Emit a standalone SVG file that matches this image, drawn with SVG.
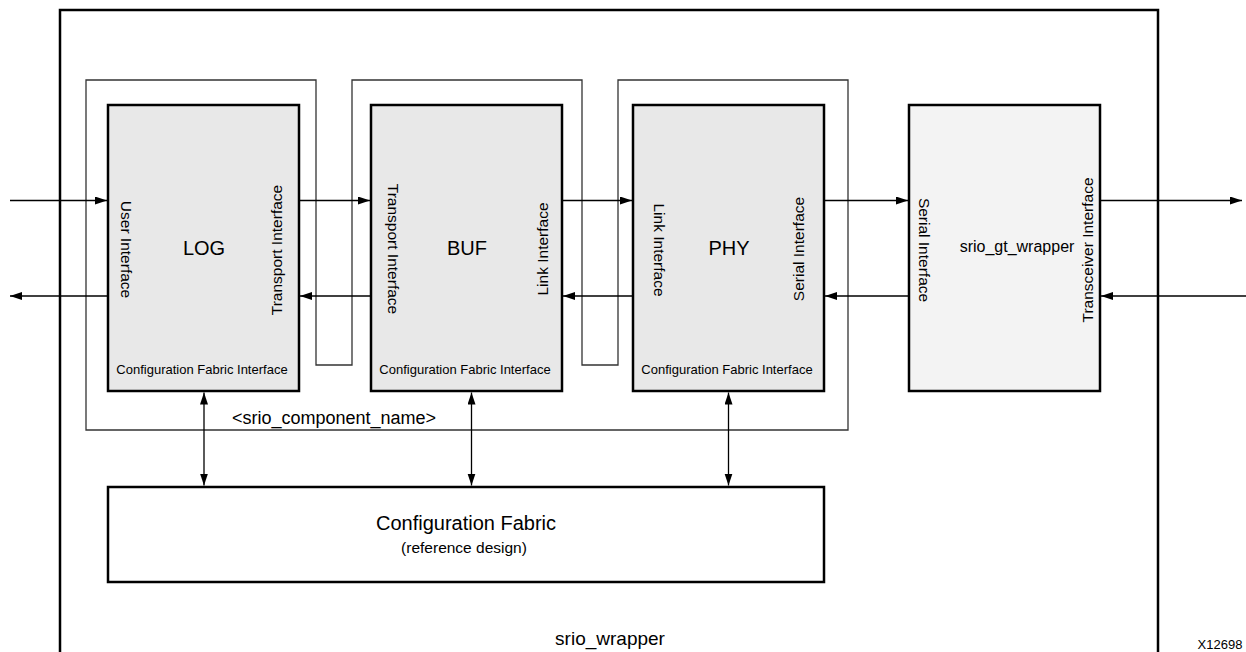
<svg xmlns="http://www.w3.org/2000/svg" width="1246" height="652" viewBox="0 0 1246 652">
<style>
text{font-family:"Liberation Sans",Arial,sans-serif;fill:#000}
.blk{stroke:#000;stroke-width:2.5}
.core{fill:#e8e8e8}
.gt{fill:#f3f3f3}
.thin{fill:none;stroke:#333;stroke-width:1.3}
.c{stroke:#000;stroke-width:1.3;fill:none}
.t{font-size:20px;text-anchor:middle}
.r{font-size:15.5px;text-anchor:middle}
.s{font-size:13px;text-anchor:middle}
</style>
<defs>
<marker id="ah" markerUnits="userSpaceOnUse" markerWidth="14" markerHeight="10" refX="12" refY="4" orient="auto-start-reverse">
<path d="M0,0 L12,4 L0,8 Z" fill="#000"/>
</marker>
</defs>
<g id="srio_wrapper">
<rect x="60" y="10" width="1098" height="660" fill="#fff" class="blk"/>
<text x="610" y="645" style="font-size:19px;text-anchor:middle">srio_wrapper</text>
</g>
<g id="component">
<path class="thin" d="M86,80 H316 V365 H352 V80 H582 V365 H618 V80 H848 V430 H86 Z"/>
<text x="334" y="424" style="font-size:18px;text-anchor:middle">&lt;srio_component_name&gt;</text>
</g>
<g id="log">
<rect x="108" y="105" width="191" height="286" class="blk core"/>
<text class="t" x="204" y="255">LOG</text>
<text class="r" transform="translate(120.5,249.5) rotate(90)">User Interface</text>
<text class="r" transform="translate(282,250) rotate(-90)">Transport Interface</text>
<text class="s" x="202" y="373.5">Configuration Fabric Interface</text>
</g>
<g id="buf">
<rect x="371" y="105" width="191" height="286" class="blk core"/>
<text class="t" x="467" y="255">BUF</text>
<text class="r" transform="translate(387.5,249) rotate(90)">Transport Interface</text>
<text class="r" transform="translate(548,249) rotate(-90)">Link Interface</text>
<text class="s" x="465" y="373.5">Configuration Fabric Interface</text>
</g>
<g id="phy">
<rect x="633" y="105" width="191" height="286" class="blk core"/>
<text class="t" x="729" y="255">PHY</text>
<text class="r" transform="translate(653.5,250) rotate(90)">Link Interface</text>
<text class="r" transform="translate(804,249) rotate(-90)">Serial Interface</text>
<text class="s" x="727" y="373.5">Configuration Fabric Interface</text>
</g>
<g id="srio_gt_wrapper">
<rect x="909" y="105" width="191" height="286" class="blk gt"/>
<text x="1017" y="252" style="font-size:16px;text-anchor:middle">srio_gt_wrapper</text>
<text class="r" transform="translate(918.5,250) rotate(90)">Serial Interface</text>
<text class="r" transform="translate(1093,250) rotate(-90)">Transceiver Interface</text>
</g>
<g id="config_fabric">
<rect x="108" y="487" width="716" height="95" fill="#fff" class="blk"/>
<text x="466" y="530" style="font-size:20px;text-anchor:middle">Configuration Fabric</text>
<text x="464" y="553" style="font-size:15.5px;text-anchor:middle">(reference design)</text>
</g>
<g id="connectors">
<path class="c" d="M10,200.5 H107" marker-end="url(#ah)"/>
<path class="c" d="M300,200.5 H370" marker-end="url(#ah)"/>
<path class="c" d="M563,200.5 H632" marker-end="url(#ah)"/>
<path class="c" d="M825,200.5 H908" marker-end="url(#ah)"/>
<path class="c" d="M1101,200.5 H1242" marker-end="url(#ah)"/>
<path class="c" d="M10,296 H107" marker-start="url(#ah)"/>
<path class="c" d="M300,296 H370" marker-start="url(#ah)"/>
<path class="c" d="M563,296 H632" marker-start="url(#ah)"/>
<path class="c" d="M825,296 H908" marker-start="url(#ah)"/>
<path class="c" d="M1101,296 H1246" marker-start="url(#ah)"/>
<path class="c" d="M204,392.5 V485.5" marker-start="url(#ah)" marker-end="url(#ah)"/>
<path class="c" d="M471.5,392.5 V485.5" marker-start="url(#ah)" marker-end="url(#ah)"/>
<path class="c" d="M728.5,392.5 V485.5" marker-start="url(#ah)" marker-end="url(#ah)"/>
</g>
<text x="1220" y="649" style="font-size:13px;text-anchor:middle">X12698</text>
</svg>
